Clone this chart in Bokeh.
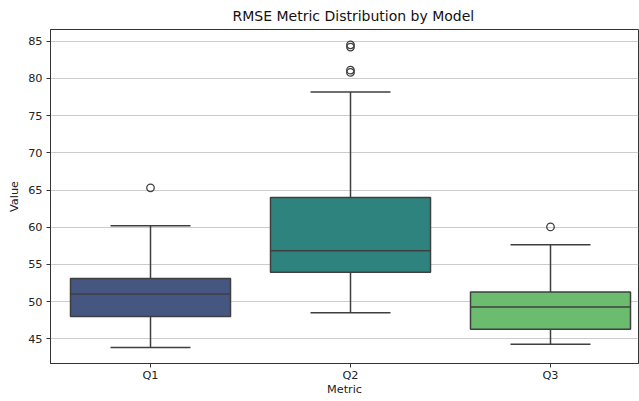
import colorsys
from bokeh.plotting import figure
from bokeh.models import ColumnDataSource, Range1d, FixedTicker
from bokeh.embed import file_html
from bokeh.resources import INLINE

# ---- data ----
categories = ["Q1", "Q2", "Q3"]
q1_vals = [48.0, 53.95, 46.3]
median_vals = [51.05, 56.85, 49.3]
q3_vals = [53.1, 64.0, 51.3]
whisker_low = [43.85, 48.5, 44.3]
whisker_high = [60.2, 78.15, 57.65]
outlier_cat = ["Q1", "Q2", "Q2", "Q2", "Q2", "Q3"]
outlier_vals = [65.3, 84.5, 84.2, 81.1, 80.8, 60.05]
base_colors = ["#3b528b", "#21918c", "#5ec962"]  # viridis(3)
y_ticks = [45, 50, 55, 60, 65, 70, 75, 80, 85]


def desat(hexc, prop=0.75):
    r, g, b = (int(hexc[i:i + 2], 16) / 255 for i in (1, 3, 5))
    h, l, s = colorsys.rgb_to_hls(r, g, b)
    r, g, b = colorsys.hls_to_rgb(h, l, s * prop)
    return "#%02x%02x%02x" % (round(r * 255), round(g * 255), round(b * 255))


fill_colors = [desat(c) for c in base_colors]
xpos = list(range(len(categories)))
idx = {c: i for i, c in enumerate(categories)}

box_w = 0.8
cap_w = 0.4
line_col = "#3f3f3f"
FONT = "DejaVu Sans"

p = figure(width=639, height=401, output_backend="svg", toolbar_location=None,
           x_range=Range1d(-0.5, 2.44), y_range=Range1d(41.7, 86.56),
           min_border_left=50, min_border_right=1, min_border_top=27,
           min_border_bottom=38)

src = ColumnDataSource(dict(x=xpos, q1=q1_vals, q3=q3_vals, med=median_vals,
                            lo=whisker_low, hi=whisker_high, color=fill_colors,
                            capl=[x - cap_w / 2 for x in xpos],
                            capr=[x + cap_w / 2 for x in xpos],
                            bl=[x - box_w / 2 for x in xpos],
                            br=[x + box_w / 2 for x in xpos]))

# whiskers
p.segment(x0="x", y0="q3", x1="x", y1="hi", source=src, line_color=line_col, line_width=1.5)
p.segment(x0="x", y0="q1", x1="x", y1="lo", source=src, line_color=line_col, line_width=1.5)
p.segment(x0="capl", y0="hi", x1="capr", y1="hi", source=src, line_color=line_col, line_width=1.5)
p.segment(x0="capl", y0="lo", x1="capr", y1="lo", source=src, line_color=line_col, line_width=1.5)
# boxes
p.vbar(x="x", width=box_w, bottom="q1", top="q3", source=src, fill_color="color",
       line_color=line_col, line_width=1.5)
# medians
p.segment(x0="bl", y0="med", x1="br", y1="med", source=src, line_color=line_col, line_width=1.5)
# outliers
p.scatter(x=[idx[c] for c in outlier_cat], y=outlier_vals, size=7.5, marker="circle",
          fill_color=None, line_color=line_col, line_width=1.3)

# title
p.title.text = "RMSE Metric Distribution by Model"
p.title.text_font = FONT
p.title.text_font_size = "14px"
p.title.text_font_style = "normal"
p.title.text_color = "#111111"
p.title.align = "left"
p.title.offset = 182
p.title.standoff = 11

# axes
p.xaxis.ticker = FixedTicker(ticks=xpos)
p.xaxis.major_label_overrides = {i: c for i, c in enumerate(categories)}
p.yaxis.ticker = FixedTicker(ticks=y_ticks)
for ax in (p.xaxis[0], p.yaxis[0]):
    ax.major_label_text_font = FONT
    ax.major_label_text_font_size = "11.3px"
    ax.major_label_text_color = "#222222"
    ax.axis_label_text_font = FONT
    ax.axis_label_text_font_size = "11.3px"
    ax.axis_label_text_font_style = "normal"
    ax.axis_label_text_color = "#222222"
    ax.major_tick_out = 4
    ax.major_tick_in = 0
    ax.minor_tick_out = 0
    ax.minor_tick_in = 0
    ax.major_tick_line_color = "#333333"
    ax.axis_line_color = "#333333"
    ax.major_label_standoff = 3
p.xaxis.major_label_standoff = 1
p.yaxis.major_label_standoff = 4
p.xaxis.axis_label = "Metric"
p.yaxis.axis_label = "Value"
p.xaxis.axis_label_standoff = -2
p.yaxis.axis_label_standoff = 4

p.xgrid.grid_line_color = None
p.ygrid.grid_line_color = "#cccccc"
p.ygrid.grid_line_width = 1
p.outline_line_color = "#333333"
p.outline_line_width = 1

open("out.html", "w").write(file_html(p, INLINE))
